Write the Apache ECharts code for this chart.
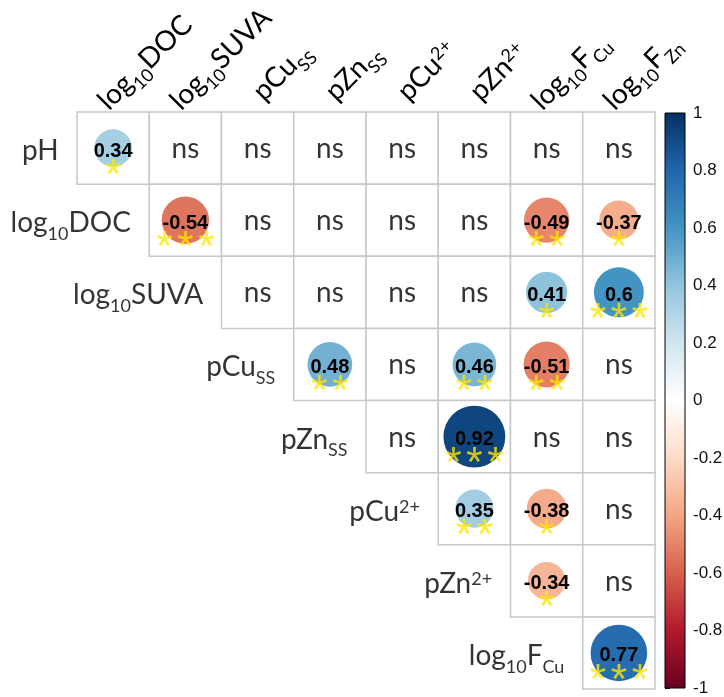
<!DOCTYPE html>
<html>
<head>
<meta charset="utf-8">
<script src="https://cdn.jsdelivr.net/npm/echarts@6/dist/echarts.min.js"></script>
<style>
  html, body { margin: 0; padding: 0; background: #fff; }
  #chart { width: 724px; height: 697px; }
</style>
</head>
<body>
<div id="chart"></div>
<script>
var rowKeys = ['pH', 'log10DOC', 'log10SUVA', 'pCuSS', 'pZnSS', 'pCu2+', 'pZn2+', 'log10FCu'];
var colKeys = ['log10DOC', 'log10SUVA', 'pCuSS', 'pZnSS', 'pCu2+', 'pZn2+', 'log10FCu', 'log10FZn'];
var rowLabels = ['pH', 'log{sub|10}DOC', 'log{sub|10}SUVA', 'pCu{sub|SS}', 'pZn{sub|SS}', 'pCu{sup|2+}', 'pZn{sup|2+}', 'log{sub|10}F{sub|Cu}'];
var colLabels = ['log{sub|10}DOC', 'log{sub|10}SUVA', 'pCu{sub|SS}', 'pZn{sub|SS}', 'pCu{sup|2+}', 'pZn{sup|2+}', 'log{sub|10}F{sub|Cu}', 'log{sub|10}F{sub|Zn}'];

// upper triangle, every row starts on the diagonal; null = ns
var corr = [
  [0.34, null, null, null, null, null, null, null],
  [-0.54, null, null, null, null, -0.49, -0.37],
  [null, null, null, null, 0.41, 0.6],
  [0.48, null, 0.46, -0.51, null],
  [null, 0.92, null, null],
  [0.35, -0.38, null],
  [-0.34, null],
  [0.77]
];
// number of significance stars, same layout
var stars = [
  [1, 0, 0, 0, 0, 0, 0, 0],
  [3, 0, 0, 0, 0, 2, 1],
  [0, 0, 0, 0, 1, 3],
  [2, 0, 2, 2, 0],
  [0, 3, 0, 0],
  [2, 1, 0],
  [1, 0],
  [3]
];
var palette = ['#67001F', '#B2182B', '#D6604D', '#F4A582', '#FDDBC7', '#FFFFFF',
               '#D1E5F0', '#92C5DE', '#4393C3', '#2166AC', '#053061'];

var cells = [], circles = [], nsCells = [], starCells = [], rowLabelPts = [];
corr.forEach(function (row, i) {
  rowLabelPts.push([i, i]);
  row.forEach(function (r, k) {
    var j = i + k;
    cells.push([j, i]);
    if (r === null) nsCells.push([j, i]);
    else circles.push([j, i, r]);
    if (stars[i][k] > 0) starCells.push([j, i, stars[i][k]]);
  });
});

var labelFont = 'Lato';
var rich = {
  sub: { fontSize: 18, fontFamily: labelFont, color: '#000', verticalAlign: 'bottom', lineHeight: 40 },
  sup: { fontSize: 18, fontFamily: labelFont, color: '#000', verticalAlign: 'top', padding: [6, 0, 0, 0] }
};

// headers: the log labels sit a little higher than the p labels
var colAxisData = colKeys.map(function (k) {
  var isLog = k.indexOf('log') === 0;
  return {
    value: k,
    textStyle: {
      align: 'left',
      verticalAlign: 'bottom',
      padding: isLog ? [0, 0, 3, 8] : [0, 0, 2, 22]
    }
  };
});

var stops = palette.slice().reverse().map(function (c, i, a) {
  return { offset: i / (a.length - 1), color: c };
});

var chart = echarts.init(document.getElementById('chart'));

chart.setOption({
  animation: false,
  grid: [
    { left: 77, top: 112, width: 578, height: 577, outerBoundsMode: 'none' },
    { left: 665, top: 113, width: 20, height: 575, outerBoundsMode: 'none' }
  ],
  xAxis: [{
    type: 'category',
    data: colAxisData,
    position: 'top',
    axisLine: { show: false },
    axisTick: { show: false },
    splitLine: { show: false },
    axisLabel: {
      interval: 0,
      rotate: -45,
      margin: -15,
      align: 'left',
      verticalAlign: 'bottom',
      fontFamily: labelFont,
      fontSize: 28,
      lineHeight: 40,
      color: '#000',
      formatter: function (v, idx) { return colLabels[idx]; },
      rich: rich
    }
  }, {
    type: 'value', gridIndex: 1, min: 0, max: 1, show: false
  }],
  yAxis: [{
    type: 'category',
    data: rowKeys,
    inverse: true,
    axisLine: { show: false },
    axisTick: { show: false },
    axisLabel: { show: false },
    splitLine: { show: false }
  }, {
    type: 'value',
    gridIndex: 1,
    min: -1,
    max: 1,
    interval: 0.2,
    position: 'right',
    axisLine: { show: false },
    splitLine: { show: false },
    axisTick: { show: true, length: 5, lineStyle: { color: '#000', width: 1 } },
    axisLabel: {
      margin: 8,
      fontFamily: 'Liberation Sans',
      fontSize: 17,
      color: '#111',
      showMinLabel: true,
      showMaxLabel: true,
      formatter: function (v) { return String(+v.toFixed(1)); }
    }
  }],
  visualMap: {
    type: 'continuous',
    show: false,
    min: -1,
    max: 1,
    dimension: 2,
    seriesIndex: 1,
    inRange: { color: palette }
  },
  series: [{
    // cell borders
    type: 'custom',
    data: cells,
    z: 1,
    renderItem: function (params, api) {
      var c = api.coord([api.value(0), api.value(1)]);
      var s = api.size([1, 1]);
      return {
        type: 'rect',
        shape: { x: c[0] - s[0] / 2, y: c[1] - s[1] / 2, width: s[0], height: s[1] },
        style: { fill: '#fff', stroke: '#c8c8c8', lineWidth: 1.5 }
      };
    }
  }, {
    type: 'scatter',
    data: circles,
    z: 2,
    symbol: 'circle',
    symbolSize: function (v) { return 64.5 * Math.sqrt(Math.abs(v[2])); },
    itemStyle: { opacity: 1 },
    label: {
      show: true,
      position: 'inside',
      offset: [0, 3],
      color: '#000',
      fontFamily: 'Liberation Sans',
      fontWeight: 'bold',
      fontSize: 20,
      formatter: function (p) { return String(p.value[2]); }
    }
  }, {
    type: 'scatter',
    data: nsCells,
    z: 3,
    symbolSize: 1,
    itemStyle: { color: 'rgba(0,0,0,0)' },
    label: {
      show: true,
      position: 'inside',
      offset: [0, 1],
      color: '#000',
      fontFamily: labelFont,
      fontSize: 28,
      formatter: 'ns'
    }
  }, {
    type: 'scatter',
    data: starCells,
    z: 4,
    symbolSize: 1,
    itemStyle: { color: 'rgba(0,0,0,0)' },
    label: {
      show: true,
      position: 'inside',
      offset: [0, 28],
      formatter: function (p) {
        var s = '';
        for (var n = 0; n < p.value[2]; n++) s += '{s|*}';
        return s;
      },
      rich: {
        s: { width: 21, align: 'center', fontSize: 42, fontFamily: 'Liberation Sans', color: '#FFE600' }
      }
    }
  }, {
    type: 'scatter',
    data: rowLabelPts,
    z: 3,
    symbolSize: 1,
    itemStyle: { color: 'rgba(0,0,0,0)' },
    label: {
      show: true,
      position: 'left',
      distance: 54,
      offset: [0, 3],
      color: '#000',
      fontFamily: labelFont,
      fontSize: 28,
      lineHeight: 40,
      formatter: function (p) { return rowLabels[p.dataIndex]; },
      rich: rich
    }
  }, {
    // colour bar
    type: 'custom',
    xAxisIndex: 1,
    yAxisIndex: 1,
    data: [[-1, 1]],
    renderItem: function (params, api) {
      var top = api.coord([0, api.value(1)]);
      var bottom = api.coord([1, api.value(0)]);
      return {
        type: 'rect',
        shape: { x: top[0], y: top[1], width: bottom[0] - top[0], height: bottom[1] - top[1] },
        style: { fill: new echarts.graphic.LinearGradient(0, 0, 0, 1, stops), stroke: '#000', lineWidth: 1 }
      };
    }
  }]
});
</script>
</body>
</html>
